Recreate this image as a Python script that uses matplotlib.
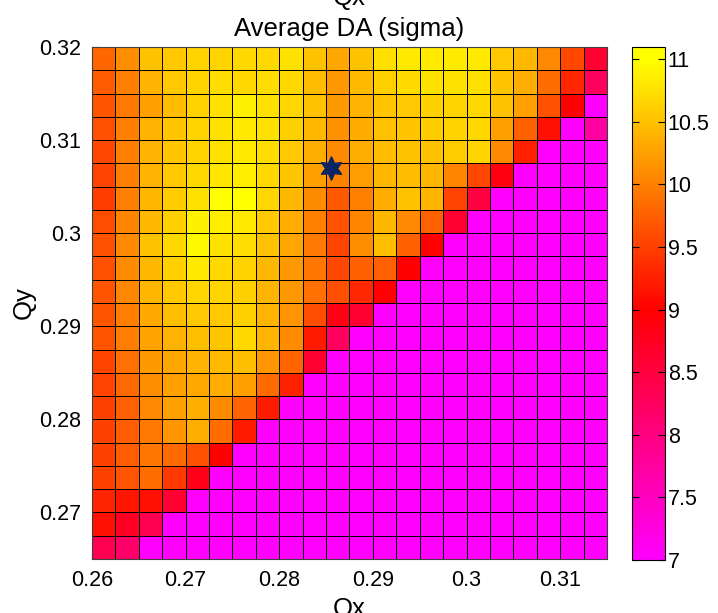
import numpy as np
import matplotlib
matplotlib.use("Agg")
import matplotlib.pyplot as plt
from matplotlib.colors import LinearSegmentedColormap

plt.rcParams['font.family'] = ['Liberation Sans', 'DejaVu Sans']

# tune scan grid (cell edges)
qx = [0.26, 0.2625, 0.265, 0.2675, 0.27, 0.2725, 0.275, 0.2775, 0.28, 0.2825, 0.285,
      0.2875, 0.29, 0.2925, 0.295, 0.2975, 0.30, 0.3025, 0.305, 0.3075, 0.31, 0.3125, 0.315]
qy = [0.265, 0.2675, 0.27, 0.2725, 0.275, 0.2775, 0.28, 0.2825, 0.285, 0.2875, 0.29,
      0.2925, 0.295, 0.2975, 0.30, 0.3025, 0.305, 0.3075, 0.31, 0.3125, 0.315, 0.3175, 0.32]

# average DA in sigma, rows from Qy=0.3175 (top) down to Qy=0.265
da = [
    [9.80, 10.10, 10.51, 10.57, 10.66, 10.66, 10.69, 10.69, 10.76, 10.51, 10.30, 10.51, 10.74, 10.82, 10.84, 10.84, 10.82, 10.57, 10.44, 10.07, 9.56, 8.62],
    [9.71, 10.00, 10.38, 10.57, 10.66, 10.73, 10.69, 10.73, 10.69, 10.47, 10.18, 10.45, 10.63, 10.71, 10.76, 10.76, 10.74, 10.54, 10.35, 9.85, 9.30, 8.25],
    [9.66, 9.94, 10.25, 10.47, 10.65, 10.76, 10.87, 10.76, 10.67, 10.51, 10.19, 10.38, 10.54, 10.57, 10.63, 10.66, 10.69, 10.51, 10.25, 9.63, 9.00, 7.00],
    [9.63, 10.00, 10.38, 10.54, 10.66, 10.76, 10.82, 10.76, 10.63, 10.44, 10.13, 10.34, 10.51, 10.54, 10.60, 10.64, 10.67, 10.25, 9.75, 9.13, 7.00, 7.75],
    [9.56, 10.00, 10.38, 10.54, 10.66, 10.76, 10.82, 10.73, 10.57, 10.35, 10.07, 10.35, 10.47, 10.51, 10.51, 10.60, 10.66, 10.07, 9.25, 7.00, 7.00, 7.00],
    [9.53, 10.00, 10.38, 10.57, 10.69, 10.79, 10.85, 10.69, 10.54, 10.25, 10.02, 10.22, 10.44, 10.47, 10.42, 10.04, 9.56, 8.87, 7.00, 7.00, 7.00, 7.00],
    [9.48, 10.00, 10.42, 10.60, 10.76, 11.10, 11.00, 10.68, 10.44, 10.08, 9.70, 10.00, 10.35, 10.51, 10.41, 9.53, 8.50, 7.00, 7.00, 7.00, 7.00, 7.00],
    [9.60, 10.04, 10.44, 10.63, 10.88, 10.85, 10.82, 10.57, 10.35, 10.00, 9.63, 10.04, 10.44, 10.07, 9.75, 8.62, 7.00, 7.00, 7.00, 7.00, 7.00, 7.00],
    [9.63, 10.07, 10.51, 10.69, 10.95, 10.76, 10.72, 10.51, 10.29, 9.94, 9.53, 10.10, 10.49, 9.75, 9.00, 7.00, 7.00, 7.00, 7.00, 7.00, 7.00, 7.00],
    [9.63, 10.08, 10.44, 10.63, 10.82, 10.69, 10.65, 10.44, 10.20, 9.92, 9.56, 9.75, 9.75, 9.00, 7.00, 7.00, 7.00, 7.00, 7.00, 7.00, 7.00, 7.00],
    [9.66, 10.05, 10.42, 10.57, 10.67, 10.66, 10.63, 10.41, 10.18, 9.88, 9.62, 9.31, 9.00, 7.00, 7.00, 7.00, 7.00, 7.00, 7.00, 7.00, 7.00, 7.00],
    [9.67, 9.99, 10.33, 10.49, 10.56, 10.56, 10.62, 10.41, 10.15, 9.60, 8.84, 8.62, 7.00, 7.00, 7.00, 7.00, 7.00, 7.00, 7.00, 7.00, 7.00, 7.00],
    [9.67, 9.98, 10.28, 10.38, 10.49, 10.55, 10.69, 10.41, 10.08, 9.20, 8.25, 7.00, 7.00, 7.00, 7.00, 7.00, 7.00, 7.00, 7.00, 7.00, 7.00, 7.00],
    [9.54, 9.88, 10.19, 10.31, 10.38, 10.45, 10.48, 10.16, 9.78, 8.62, 7.00, 7.00, 7.00, 7.00, 7.00, 7.00, 7.00, 7.00, 7.00, 7.00, 7.00, 7.00],
    [9.52, 9.82, 10.10, 10.25, 10.32, 10.35, 10.25, 9.82, 9.25, 7.00, 7.00, 7.00, 7.00, 7.00, 7.00, 7.00, 7.00, 7.00, 7.00, 7.00, 7.00, 7.00],
    [9.50, 9.75, 10.06, 10.25, 10.37, 10.09, 9.78, 9.22, 7.00, 7.00, 7.00, 7.00, 7.00, 7.00, 7.00, 7.00, 7.00, 7.00, 7.00, 7.00, 7.00, 7.00],
    [9.50, 9.73, 9.94, 10.16, 10.35, 9.84, 9.21, 7.00, 7.00, 7.00, 7.00, 7.00, 7.00, 7.00, 7.00, 7.00, 7.00, 7.00, 7.00, 7.00, 7.00, 7.00],
    [9.51, 9.73, 9.92, 9.82, 9.63, 9.00, 7.00, 7.00, 7.00, 7.00, 7.00, 7.00, 7.00, 7.00, 7.00, 7.00, 7.00, 7.00, 7.00, 7.00, 7.00, 7.00],
    [9.51, 9.67, 9.85, 9.44, 8.80, 7.00, 7.00, 7.00, 7.00, 7.00, 7.00, 7.00, 7.00, 7.00, 7.00, 7.00, 7.00, 7.00, 7.00, 7.00, 7.00, 7.00],
    [9.29, 9.17, 9.13, 8.62, 7.00, 7.00, 7.00, 7.00, 7.00, 7.00, 7.00, 7.00, 7.00, 7.00, 7.00, 7.00, 7.00, 7.00, 7.00, 7.00, 7.00, 7.00],
    [9.13, 8.72, 8.37, 7.00, 7.00, 7.00, 7.00, 7.00, 7.00, 7.00, 7.00, 7.00, 7.00, 7.00, 7.00, 7.00, 7.00, 7.00, 7.00, 7.00, 7.00, 7.00],
    [8.37, 8.18, 7.00, 7.00, 7.00, 7.00, 7.00, 7.00, 7.00, 7.00, 7.00, 7.00, 7.00, 7.00, 7.00, 7.00, 7.00, 7.00, 7.00, 7.00, 7.00, 7.00],
]

# nominal working point
wp_qx = 0.2855
wp_qy = 0.307

xticks = [0.26, 0.27, 0.28, 0.29, 0.30, 0.31]
xticklabels = ['0.26', '0.27', '0.28', '0.29', '0.3', '0.31']
yticks = [0.27, 0.28, 0.29, 0.30, 0.31, 0.32]
yticklabels = ['0.27', '0.28', '0.29', '0.3', '0.31', '0.32']
cticks = [7, 7.5, 8, 8.5, 9, 9.5, 10, 10.5, 11]
cticklabels = ['7', '7.5', '8', '8.5', '9', '9.5', '10', '10.5', '11']

vmin, vmax = 7.0, 11.1
# magenta -> red -> yellow
cmap = LinearSegmentedColormap.from_list(
    'da_map',
    [(0.0, (1, 0, 1)),
     ((9 - vmin) / (vmax - vmin), (1, 0, 0)),
     ((11 - vmin) / (vmax - vmin), (1, 1, 0)),
     (1.0, (1, 1, 0))])

tick_fs = 15.5
label_fs = 18.5

fig = plt.figure(figsize=(7.18, 6.13), dpi=100)
ax = fig.add_axes([0.1281, 0.0881, 0.7173, 0.8352])

mesh = ax.pcolormesh(qx, qy, np.array(da)[::-1], cmap=cmap, vmin=vmin, vmax=vmax,
                     edgecolors='k', linewidth=0.7)
ax.plot(wp_qx, wp_qy, marker=(6, 1, 0), ms=17, color='#0b2463', ls='none')

ax.set_xlim(qx[0], qx[-1])
ax.set_ylim(qy[0], qy[-1])
ax.set_axisbelow(True)
ax.set_xticks(xticks)
ax.set_xticklabels(xticklabels)
ax.set_yticks(yticks)
ax.set_yticklabels(yticklabels)
ax.tick_params(direction='in', length=4, labelsize=tick_fs, pad=8)
for s in ax.spines.values():
    s.set_color('#404040')
    s.set_linewidth(0.8)

ax.set_xlabel('Qx', fontsize=label_fs, labelpad=4)
ax.set_ylabel('Qy', fontsize=label_fs, labelpad=2)
ax.set_title('Average DA (sigma)', fontsize=label_fs, pad=8)
fig.text(0.5 * (0.1281 * 2 + 0.7173), 1 - 4.5 / 613, 'Qx', ha='center', va='baseline',
         fontsize=label_fs)

cax = fig.add_axes([632 / 718, 53 / 613, 33 / 718, 513.3 / 613])
cb = fig.colorbar(mesh, cax=cax, ticks=cticks)
cb.ax.set_yticklabels(cticklabels)
cb.outline.set_linewidth(0.8)
cax.tick_params(direction='in', left=True, right=True, length=5, labelsize=tick_fs, pad=2)

fig.savefig('out.png', dpi=100)
